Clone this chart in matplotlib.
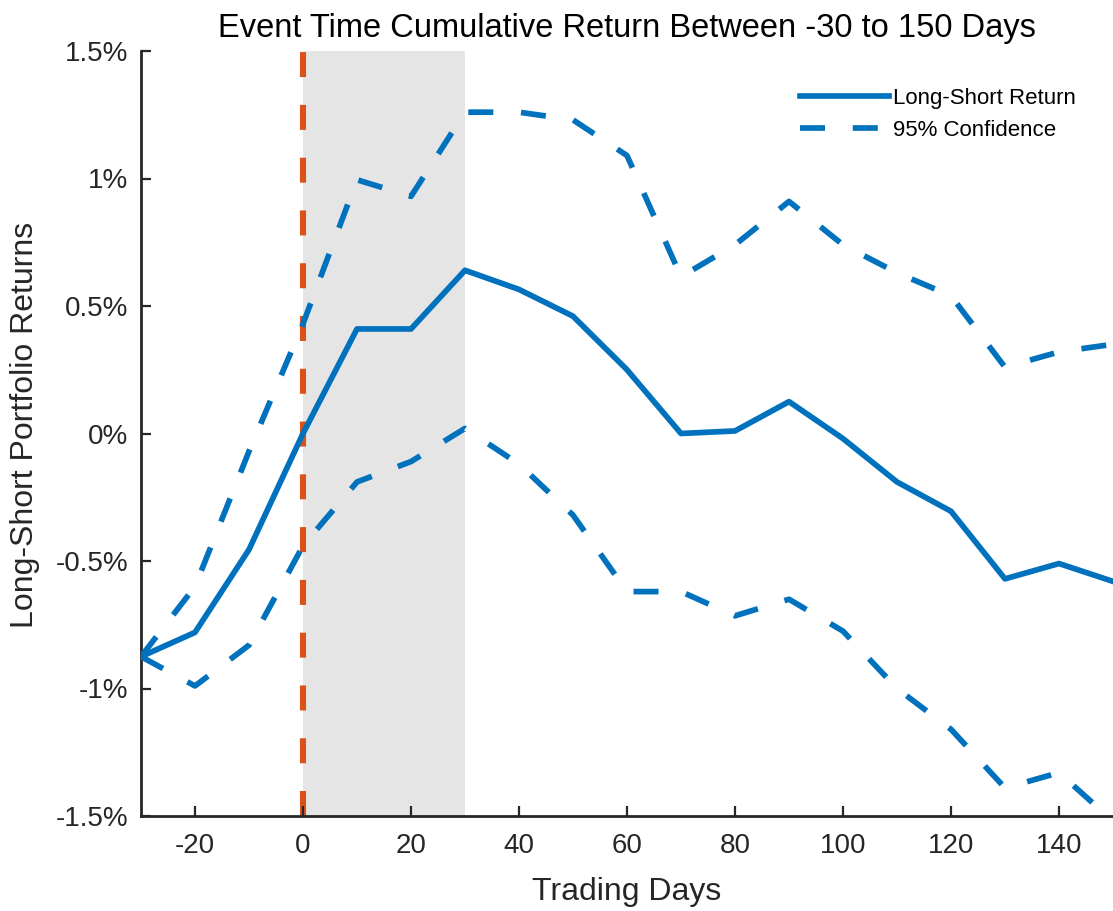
import matplotlib
matplotlib.use("Agg")
import matplotlib.pyplot as plt
from matplotlib.ticker import FuncFormatter

plt.rcParams['font.family'] = ['Liberation Sans', 'DejaVu Sans']
plt.rcParams['lines.scale_dashes'] = False
plt.rcParams['axes.unicode_minus'] = False

days = [-30, -20, -10, 0, 10, 20, 30, 40, 50, 60, 70, 80, 90, 100, 110, 120, 130, 140, 150]
ls_return = [-0.875, -0.78, -0.455, 0.0, 0.41, 0.41, 0.64, 0.565, 0.46, 0.25, 0.0, 0.01, 0.125,
             -0.02, -0.19, -0.305, -0.57, -0.51, -0.58]
upper_ci = [-0.875, -0.60, -0.07, 0.43, 0.995, 0.93, 1.26, 1.26, 1.23, 1.09, 0.615, 0.74, 0.91,
            0.74, 0.63, 0.54, 0.26, 0.32, 0.35]
lower_ci = [-0.875, -0.99, -0.83, -0.44, -0.19, -0.11, 0.02, -0.12, -0.32, -0.62, -0.62, -0.715, -0.65,
            -0.775, -1.0, -1.16, -1.39, -1.33, -1.52]
event_window = (0, 30)
event_day = 0
xticks = [-20, 0, 20, 40, 60, 80, 100, 120, 140]
yticks = [-1.5, -1.0, -0.5, 0.0, 0.5, 1.0, 1.5]

blue = '#0072BD'
orange = '#D95319'
dark = '#262626'

fig = plt.figure(figsize=(11.13, 9.11), dpi=100)
ax = fig.add_axes([141/1113, (911-816)/911, 1 - 141/1113, (816-51)/911])

ax.axvspan(event_window[0], event_window[1], color='#E5E5E5', lw=0, zorder=0)
ax.axvline(event_day, color=orange, lw=4.4, dashes=(18, 20), zorder=1)

ax.plot(days, ls_return, color=blue, lw=4.1, label='Long-Short Return', zorder=3)
ax.plot(days, upper_ci, color=blue, lw=4.1, dashes=(18, 20), label='95% Confidence', zorder=3)
ax.plot(days, lower_ci, color=blue, lw=4.1, dashes=(18, 20), zorder=3)

ax.set_xlim(-30, 150)
ax.set_ylim(-1.5, 1.5)
ax.set_xticks(xticks)
ax.set_yticks(yticks)

def pct(v, pos):
    s = ('%g' % round(v, 2))
    if s == '-0':
        s = '0'
    return s + '%'

ax.yaxis.set_major_formatter(FuncFormatter(pct))

for side in ['top', 'right']:
    ax.spines[side].set_visible(False)
for side in ['left', 'bottom']:
    ax.spines[side].set_color(dark)
    ax.spines[side].set_linewidth(2.0)

ax.tick_params(axis='both', direction='in', length=7, width=1.6, color=dark,
               labelsize=20, labelcolor=dark)
ax.tick_params(axis='y', pad=9)
ax.tick_params(axis='x', pad=12)

ax.set_title('Event Time Cumulative Return Between -30 to 150 Days', fontsize=23.5, color='black', pad=10)
ax.set_xlabel('Trading Days', fontsize=23, color=dark, labelpad=13)
ax.set_ylabel('Long-Short Portfolio Returns', fontsize=23, color=dark)
ax.yaxis.set_label_coords(-0.104, 0.511)

leg = ax.legend(loc='upper right', frameon=False, fontsize=16, handlelength=4.0,
                handletextpad=0.15, labelspacing=0.5, bbox_to_anchor=(0.982, 0.978))
for t in leg.get_texts():
    t.set_color('black')

fig.savefig('out.png', dpi=100)
